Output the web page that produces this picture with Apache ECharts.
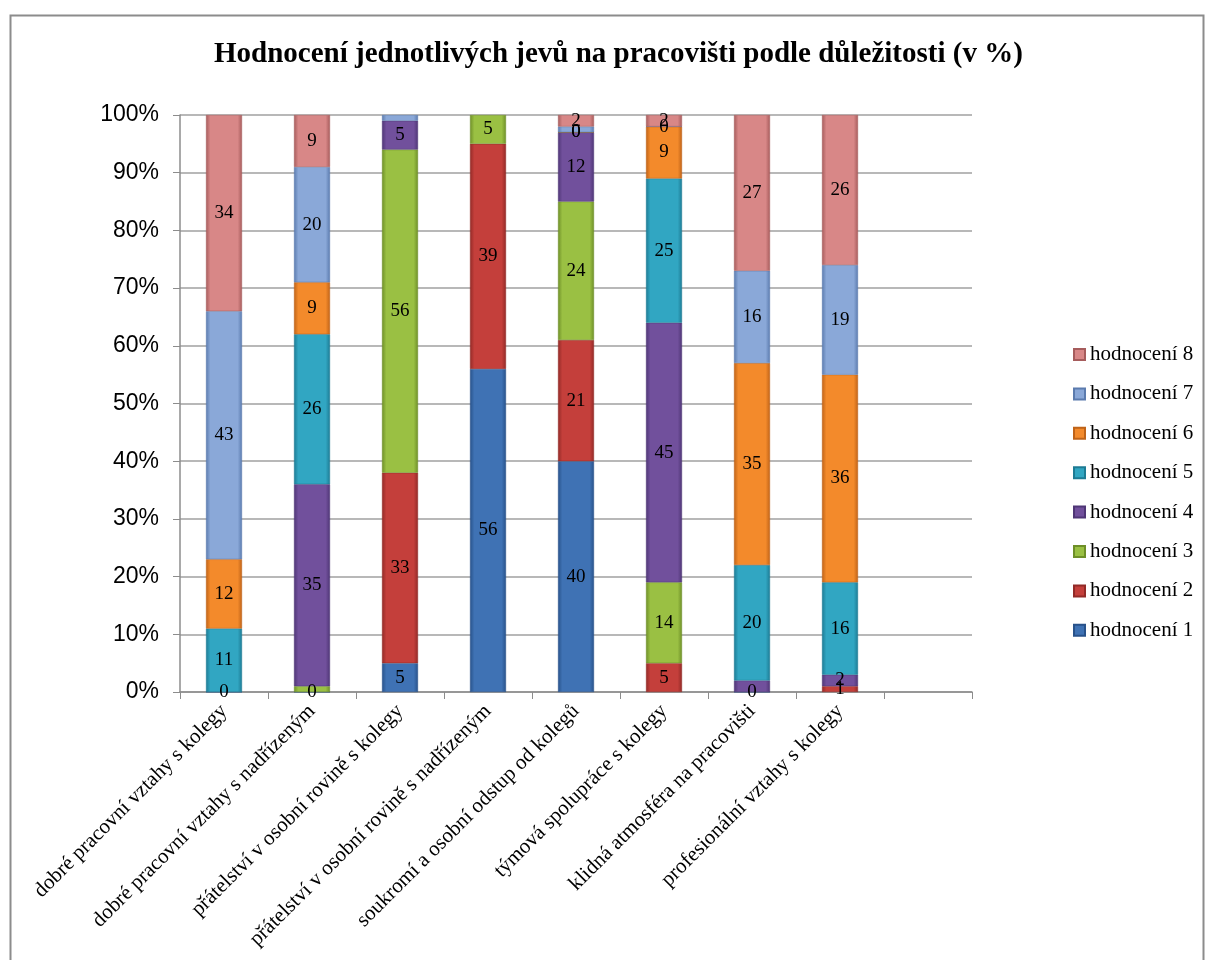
<!DOCTYPE html>
<html>
<head>
<meta charset="utf-8">
<script src="https://cdn.jsdelivr.net/npm/echarts@6/dist/echarts.min.js"></script>
<style>
  html, body { margin: 0; padding: 0; background: #fff; }
  #chart { width: 1211px; height: 960px; }
</style>
</head>
<body>
<div id="chart"></div>
<script>
// Categories (the trailing empty slot keeps a free column at the right)
const categories = [
  'dobré pracovní vztahy s kolegy',
  'dobré pracovní vztahy s nadřízeným',
  'přátelství v osobní rovině s kolegy',
  'přátelství v osobní rovině s nadřízeným',
  'soukromí a osobní odstup od kolegů',
  'týmová spolupráce s kolegy',
  'klidná atmosféra na pracovišti',
  'profesionální vztahy s kolegy',
  ''
];

// Share of each rating per category (in %)
const hodnoceni1 = [0, 0, 5, 56, 40, null, 0, null, null];
const hodnoceni2 = [null, null, 33, 39, 21, 5, null, 1, null];
const hodnoceni3 = [null, 1, 56, 5, 24, 14, null, null, null];
const hodnoceni4 = [null, 35, 5, null, 12, 45, 2, 2, null];
const hodnoceni5 = [11, 26, null, null, 0, 25, 20, 16, null];
const hodnoceni6 = [12, 9, null, null, 0, 9, 35, 36, null];
const hodnoceni7 = [43, 20, 1, null, 1, 0, 16, 19, null];
const hodnoceni8 = [34, 9, null, null, 2, 2, 27, 26, null];

const seriesNames = ['hodnocení 1', 'hodnocení 2', 'hodnocení 3', 'hodnocení 4',
                     'hodnocení 5', 'hodnocení 6', 'hodnocení 7', 'hodnocení 8'];
const seriesValues = [hodnoceni1, hodnoceni2, hodnoceni3, hodnoceni4,
                      hodnoceni5, hodnoceni6, hodnoceni7, hodnoceni8];

// Thin segments whose value label is not printed: [series index, category index]
const unlabeled = [[2, 1], [6, 2], [6, 4], [3, 6]];

const yTicks = { min: 0, max: 100, interval: 10 };

// Base / edge colours for the bevelled bars
const palette = [
  ['#3f72b4', '#28528a'],
  ['#c43f3b', '#922a27'],
  ['#9ac043', '#6e8f28'],
  ['#71509c', '#4f3676'],
  ['#31a6c2', '#1d7b94'],
  ['#f38a2b', '#bf6318'],
  ['#8aa8d8', '#5b7bae'],
  ['#d88787', '#a65c5c']
];

function bevel(base, edge) {
  return new echarts.graphic.LinearGradient(0, 0, 1, 0, [
    { offset: 0, color: edge },
    { offset: 0.12, color: base },
    { offset: 0.5, color: base },
    { offset: 0.88, color: base },
    { offset: 1, color: edge }
  ]);
}

// Totals per category for the 100 % stack
const totals = categories.map((_, c) =>
  seriesValues.reduce((s, arr) => s + (arr[c] == null ? 0 : arr[c]), 0));

const serif = '"Liberation Serif", "Times New Roman", serif';

const series = seriesNames.map((name, s) => ({
  name: name,
  type: 'bar',
  stack: 'total',
  barWidth: 36,
  itemStyle: {
    color: bevel(palette[s][0], palette[s][1]),
    borderColor: palette[s][1],
    borderWidth: 0.5
  },
  label: {
    show: true,
    position: 'inside',
    color: '#000',
    fontFamily: serif,
    fontSize: 19,
    formatter: p => (p.data && p.data.raw != null) ? String(p.data.raw) : ''
  },
  data: seriesValues[s].map((v, c) => {
    if (v == null || !totals[c]) return null;
    const item = { value: v * 100 / totals[c], raw: v };
    if (unlabeled.some(u => u[0] === s && u[1] === c)) item.label = { show: false };
    return item;
  })
}));

const chart = echarts.init(document.getElementById('chart'), null, { renderer: 'canvas' });
chart.setOption({
  animation: false,
  backgroundColor: '#fff',
  graphic: [{
    type: 'rect',
    left: 8, top: 13,
    shape: { width: 1193, height: 960 },
    style: { fill: 'none', stroke: '#8c8c8c', lineWidth: 2 },
    silent: true
  }],
  title: {
    text: 'Hodnocení jednotlivých jevů na pracovišti podle důležitosti (v %)',
    left: 209,
    top: 35,
    textStyle: { fontFamily: serif, fontWeight: 'bold', fontSize: 29, color: '#000' }
  },
  legend: {
    orient: 'vertical',
    left: 1068,
    top: 339,
    itemWidth: 11,
    itemHeight: 11,
    itemGap: 18.4,
    icon: 'rect',
    data: seriesNames.slice().reverse(),
    textStyle: { fontFamily: serif, fontSize: 21, color: '#000', lineHeight: 20 }
  },
  grid: { left: 180, top: 115, width: 792, height: 577, containLabel: false },
  xAxis: {
    type: 'category',
    data: categories,
    axisLine: { lineStyle: { color: '#8c8c8c', width: 1.5 } },
    axisTick: { show: true, length: 7, lineStyle: { color: '#8c8c8c' } },
    axisLabel: {
      rotate: 45,
      interval: 0,
      margin: 16,
      fontFamily: serif,
      fontSize: 21,
      color: '#000'
    },
    splitLine: { show: false }
  },
  yAxis: {
    type: 'value',
    min: yTicks.min,
    max: yTicks.max,
    interval: yTicks.interval,
    axisLine: { show: true, lineStyle: { color: '#8c8c8c', width: 1.5 } },
    axisTick: { show: true, length: 7, lineStyle: { color: '#8c8c8c' } },
    axisLabel: {
      formatter: '{value}%',
      fontFamily: '"Liberation Sans", Arial, sans-serif',
      fontSize: 23,
      color: '#000',
      margin: 21
    },
    splitLine: { lineStyle: { color: '#a0a0a0', width: 1.5 } }
  },
  series: series
});
</script>
</body>
</html>
